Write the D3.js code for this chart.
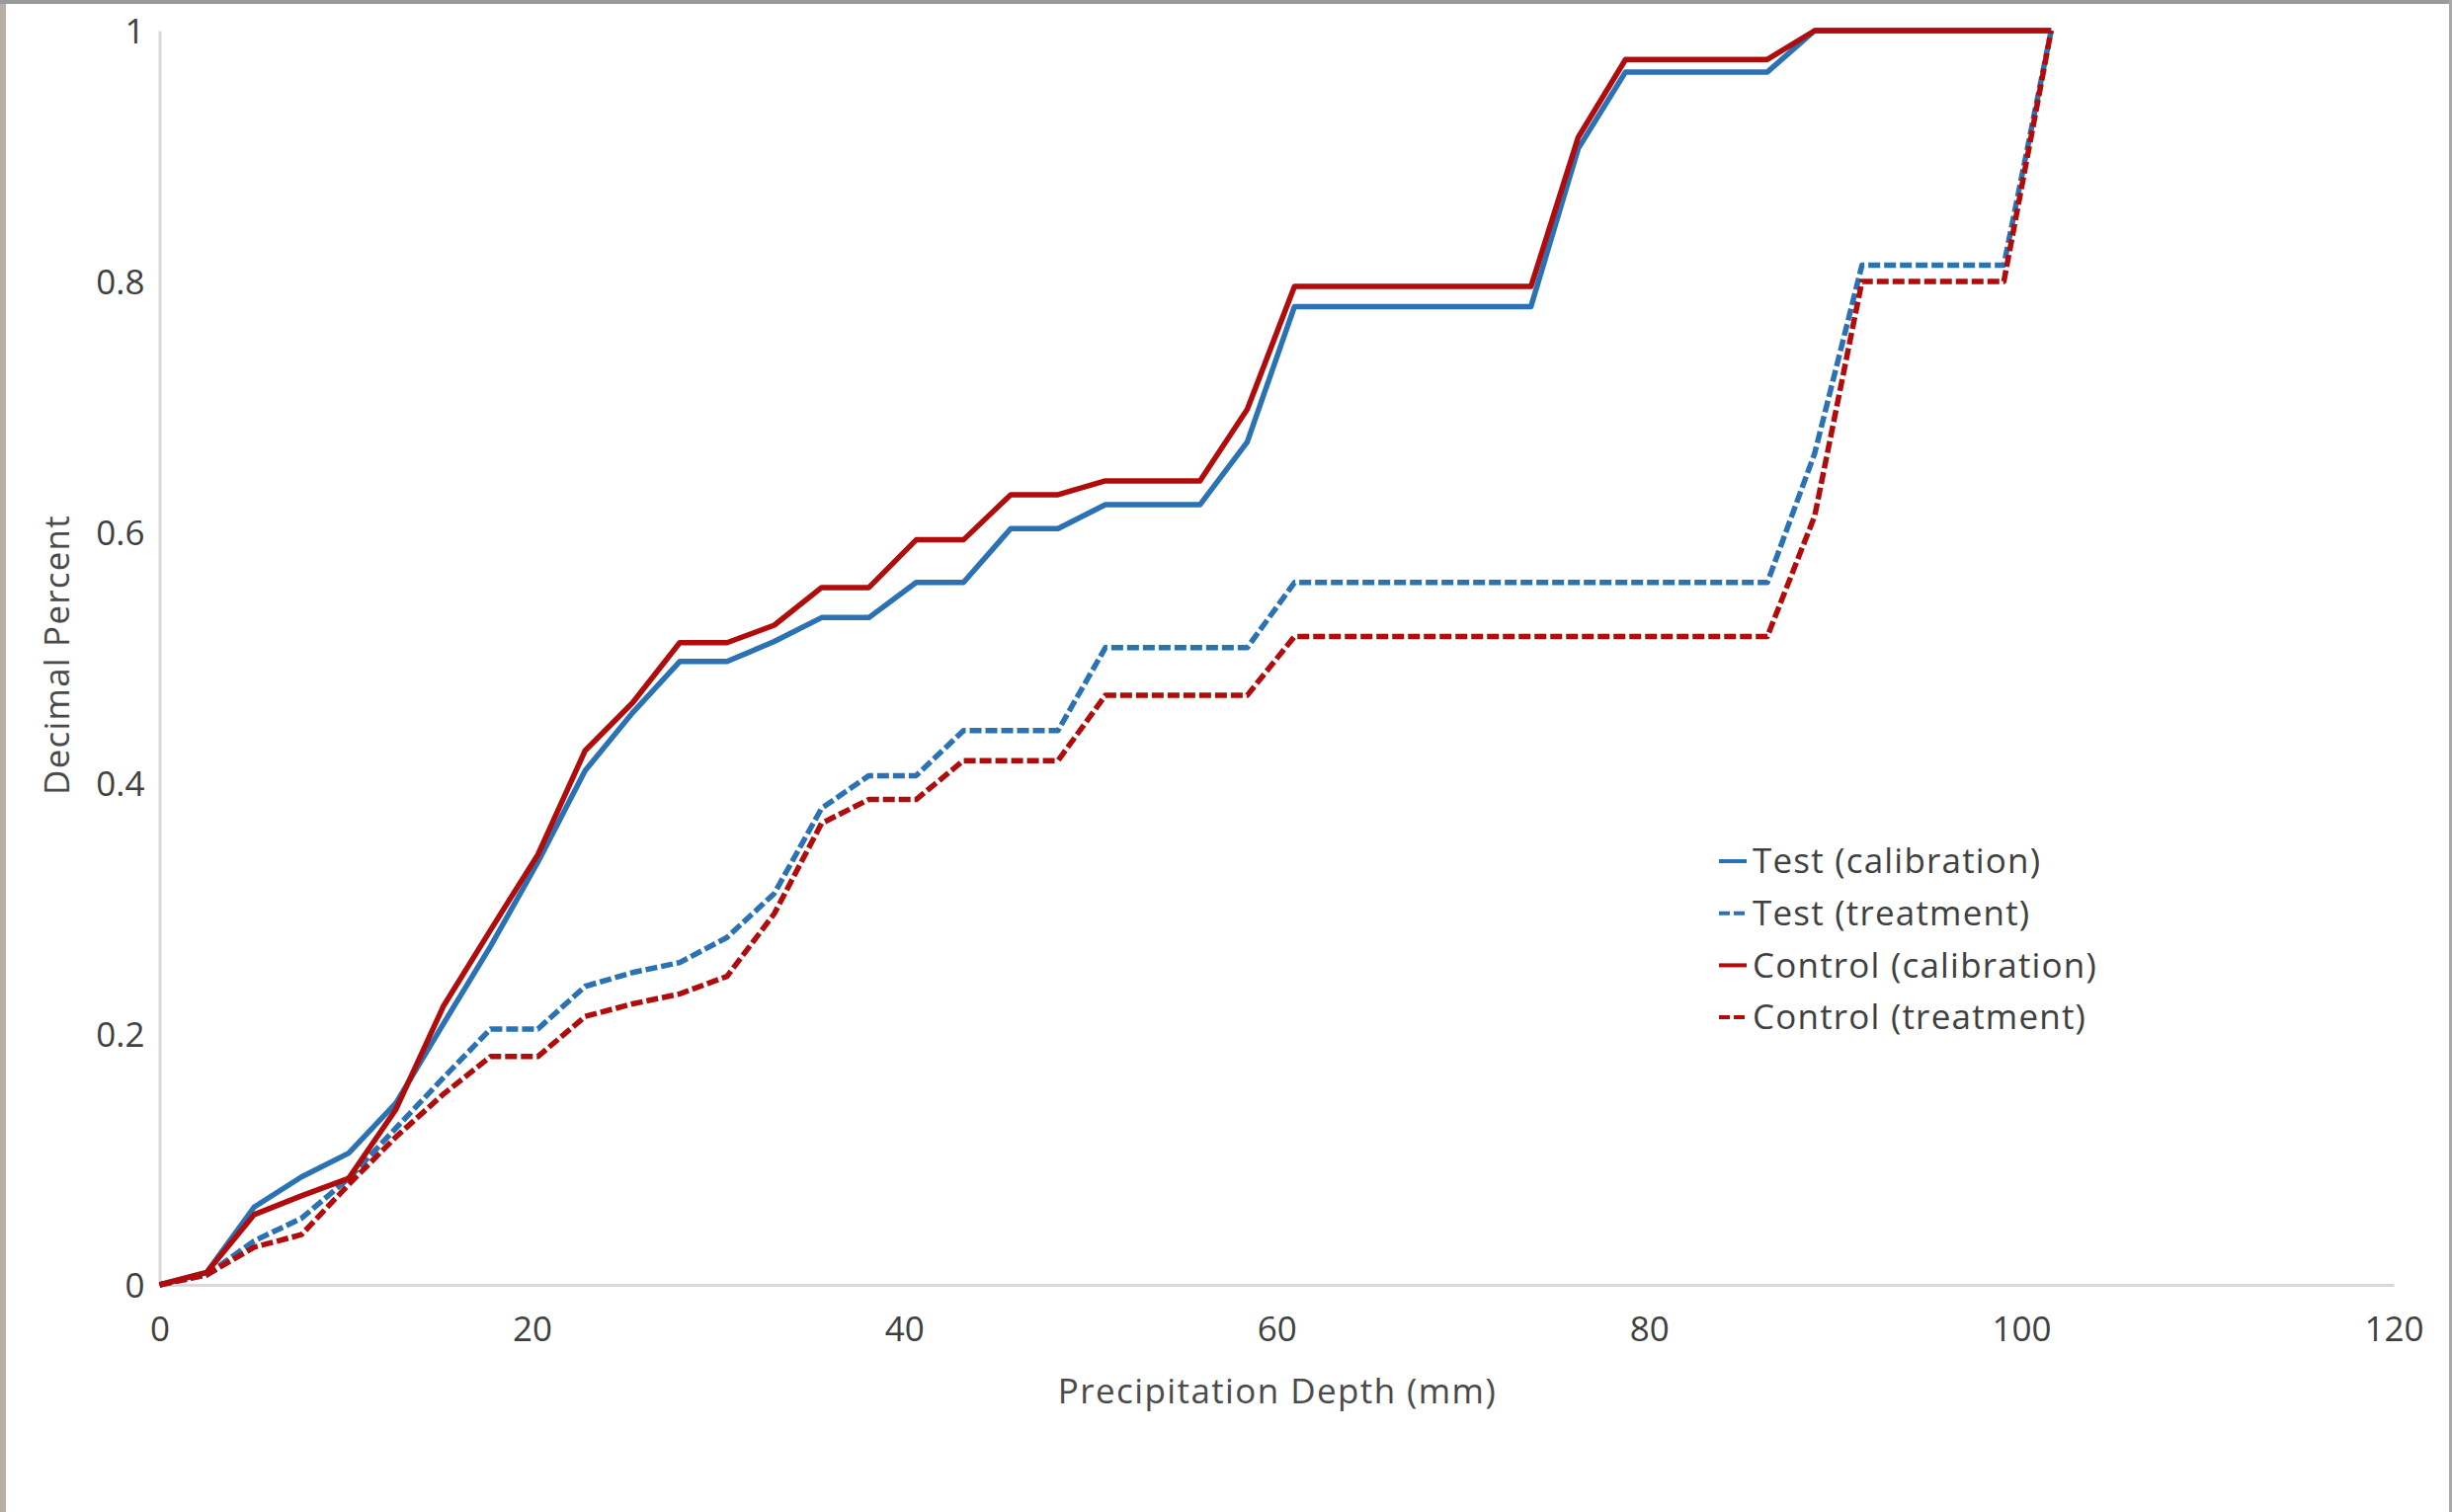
<!DOCTYPE html>
<html>
<head>
<meta charset="utf-8">
<script src="https://cdn.jsdelivr.net/npm/d3@7"></script>
<style>
  html, body { margin: 0; padding: 0; background: #ffffff; }
  svg { display: block; }
  text { font-family: "Open Sans", "Noto Sans", sans-serif; }
</style>
</head>
<body>
<script>
// ---- Data ----
const depthMM = [0, 2.54, 5.08, 7.62, 10.16, 12.7, 15.24, 17.78, 20.32, 22.86,
  25.4, 27.94, 30.48, 33.02, 35.56, 38.1, 40.64, 43.18, 45.72, 48.26,
  50.8, 53.34, 55.88, 58.42, 60.96, 63.5, 66.04, 68.58, 71.12, 73.66,
  76.2, 78.74, 81.28, 83.82, 86.36, 88.9, 91.44, 93.98, 96.52, 99.06, 101.6];

const testCalibration = [0, 0.01, 0.062, 0.086, 0.105, 0.145, 0.208, 0.27, 0.337, 0.41,
  0.456, 0.497, 0.497, 0.513, 0.532, 0.532, 0.56, 0.56, 0.603, 0.603,
  0.622, 0.622, 0.622, 0.672, 0.78, 0.78, 0.78, 0.78, 0.78, 0.78,
  0.906, 0.967, 0.967, 0.967, 0.967, 1, 1, 1, 1, 1, 1];

const testTreatment = [0, 0.008, 0.035, 0.053, 0.085, 0.125, 0.165, 0.204, 0.204, 0.238,
  0.249, 0.257, 0.277, 0.312, 0.38, 0.406, 0.406, 0.442, 0.442, 0.442,
  0.508, 0.508, 0.508, 0.508, 0.56, 0.56, 0.56, 0.56, 0.56, 0.56,
  0.56, 0.56, 0.56, 0.56, 0.56, 0.663, 0.813, 0.813, 0.813, 0.813, 1];

const controlCalibration = [0, 0.01, 0.056, 0.071, 0.085, 0.14, 0.222, 0.283, 0.343, 0.426,
  0.464, 0.512, 0.512, 0.526, 0.556, 0.556, 0.594, 0.594, 0.63, 0.63,
  0.641, 0.641, 0.641, 0.698, 0.796, 0.796, 0.796, 0.796, 0.796, 0.796,
  0.915, 0.977, 0.977, 0.977, 0.977, 1, 1, 1, 1, 1, 1];

const controlTreatment = [0, 0.008, 0.03, 0.04, 0.08, 0.118, 0.152, 0.182, 0.182, 0.214,
  0.224, 0.232, 0.246, 0.296, 0.368, 0.387, 0.387, 0.418, 0.418, 0.418,
  0.47, 0.47, 0.47, 0.47, 0.517, 0.517, 0.517, 0.517, 0.517, 0.517,
  0.517, 0.517, 0.517, 0.517, 0.517, 0.613, 0.8, 0.8, 0.8, 0.8, 1];

const seriesNames = ["Test (calibration)", "Test (treatment)", "Control (calibration)", "Control (treatment)"];
const xTickValues = [0, 20, 40, 60, 80, 100, 120];
const xTickLabels = ["0", "20", "40", "60", "80", "100", "120"];
const yTickValues = [0, 0.2, 0.4, 0.6, 0.8, 1];
const yTickLabels = ["0", "0.2", "0.4", "0.6", "0.8", "1"];
const xTitle = "Precipitation Depth (mm)";
const yTitle = "Decimal Percent";

// ---- Styling ----
const W = 2482, H = 1531;
const BLUE = "#2a72b4", RED = "#b00c0c";
const styles = [
  { color: BLUE, dash: null },
  { color: BLUE, dash: "12,4" },
  { color: RED, dash: null },
  { color: RED, dash: "12,4" }
];
const seriesValues = [testCalibration, testTreatment, controlCalibration, controlTreatment];

const svg = d3.select("body").append("svg").attr("width", W).attr("height", H);
svg.append("rect").attr("width", W).attr("height", H).attr("fill", "#fff");

// frame of the original picture
svg.append("rect").attr("x", 0).attr("y", 0).attr("width", 6).attr("height", H).attr("fill", "#b9afa3");
svg.append("rect").attr("x", 0).attr("y", 0).attr("width", W).attr("height", 4).attr("fill", "#9a9a9a");
svg.append("rect").attr("x", W - 3).attr("y", 0).attr("width", 3).attr("height", H).attr("fill", "#a8a8a8");

const x = d3.scaleLinear().domain([0, 120]).range([161.5, 2423]);
const y = d3.scaleLinear().domain([0, 1]).range([1301, 31]);

// axes
const xAxis = svg.append("g").attr("transform", `translate(0,${y(0)})`)
  .call(d3.axisBottom(x).tickValues(xTickValues).tickFormat((d, i) => xTickLabels[i]).tickSize(0).tickSizeOuter(0));
xAxis.select(".domain").attr("stroke", "#d9d9d9").attr("stroke-width", 3);
xAxis.selectAll("text").attr("y", 45).attr("dy", "0.35em")
  .attr("font-size", 35).attr("fill", "#404040").style("font-family", "'Open Sans', sans-serif");

const yAxis = svg.append("g").attr("transform", `translate(${x(0)},0)`)
  .call(d3.axisLeft(y).tickValues(yTickValues).tickFormat((d, i) => yTickLabels[i]).tickSize(0).tickSizeOuter(0));
yAxis.select(".domain").attr("stroke", "#d9d9d9").attr("stroke-width", 3);
yAxis.selectAll("text").attr("x", -15).attr("dy", "0.35em")
  .attr("font-size", 35).attr("fill", "#404040").style("font-family", "'Open Sans', sans-serif");

// axis titles
svg.append("text").attr("x", 1293).attr("y", 1409).attr("dy", "0.35em")
  .attr("text-anchor", "middle").attr("font-size", 35).attr("letter-spacing", 1.4)
  .attr("fill", "#4a4a4a").text(xTitle);
svg.append("text").attr("transform", "translate(58,663) rotate(-90)").attr("dy", "0.35em")
  .attr("text-anchor", "middle").attr("font-size", 35).attr("letter-spacing", 1.2)
  .attr("fill", "#4a4a4a").text(yTitle);

// lines
const line = d3.line().x(d => x(d[0])).y(d => y(d[1]));
seriesValues.forEach((vals, i) => {
  const pts = depthMM.map((d, j) => [d, vals[j]]);
  svg.append("path").datum(pts)
    .attr("d", line)
    .attr("fill", "none")
    .attr("stroke", styles[i].color)
    .attr("stroke-width", 5.5)
    .attr("stroke-linejoin", "round")
    .attr("stroke-dasharray", styles[i].dash);
});

// legend
const legend = svg.append("g").attr("transform", "translate(1740,872)");
seriesNames.forEach((name, i) => {
  const g = legend.append("g").attr("transform", `translate(0,${i * 52.7})`);
  g.append("line").attr("x1", 0).attr("x2", 28).attr("y1", 0).attr("y2", 0)
    .attr("stroke", styles[i].color).attr("stroke-width", 4)
    .attr("stroke-dasharray", styles[i].dash ? "11,4" : null);
  g.append("text").attr("x", 34).attr("y", 0).attr("dy", "0.35em")
    .attr("font-size", 35).attr("letter-spacing", 1.2).attr("fill", "#404040").text(name);
});
</script>
</body>
</html>
